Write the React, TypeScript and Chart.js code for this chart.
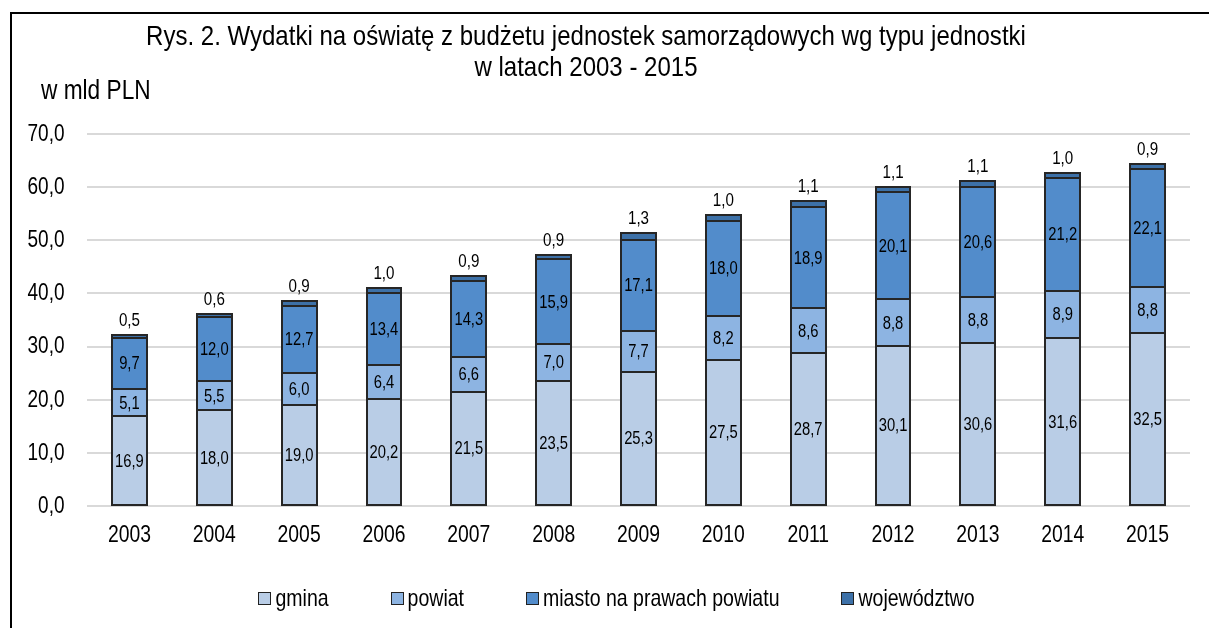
import React, { useEffect, useRef } from 'react';
import { Chart, registerables } from 'chart.js';

Chart.register(...registerables);

// ---- data ----
const years = ['2003', '2004', '2005', '2006', '2007', '2008', '2009', '2010', '2011', '2012', '2013', '2014', '2015'];
const gmina = [16.9, 18.0, 19.0, 20.2, 21.5, 23.5, 25.3, 27.5, 28.7, 30.1, 30.6, 31.6, 32.5];
const powiat = [5.1, 5.5, 6.0, 6.4, 6.6, 7.0, 7.7, 8.2, 8.6, 8.8, 8.8, 8.9, 8.8];
const miasto = [9.7, 12.0, 12.7, 13.4, 14.3, 15.9, 17.1, 18.0, 18.9, 20.1, 20.6, 21.2, 22.1];
const wojewodztwo = [0.5, 0.6, 0.9, 1.0, 0.9, 0.9, 1.3, 1.0, 1.1, 1.1, 1.1, 1.0, 0.9];
const seriesNames = ['gmina', 'powiat', 'miasto na prawach powiatu', 'województwo'];
const seriesColors = ['#B9CDE6', '#8DB4E2', '#528CCB', '#3D71A8'];
const yMin = 0;
const yMax = 70;
const yStep = 10;
const titleLines = [
  'Rys. 2. Wydatki na oświatę z budżetu jednostek samorządowych wg typu jednostki',
  'w latach 2003 - 2015',
];
const unitLabel = 'w mld PLN';

const FONT = "'Liberation Sans', Arial, sans-serif";
const NARROW = 0.82;
const fmt = (v: number) => v.toFixed(1).replace('.', ',');

// draws horizontally condensed text (Arial Narrow look)
function drawText(
  ctx: CanvasRenderingContext2D,
  text: string,
  x: number,
  y: number,
  size: number,
  align: CanvasTextAlign,
  baseline: CanvasTextBaseline,
  sx: number = NARROW
) {
  ctx.save();
  ctx.font = `${size}px ${FONT}`;
  ctx.textAlign = align;
  ctx.textBaseline = baseline;
  ctx.fillStyle = '#000';
  ctx.translate(x, y);
  ctx.scale(sx, 1);
  ctx.fillText(text, 0, 0);
  ctx.restore();
}

function textWidth(ctx: CanvasRenderingContext2D, text: string, size: number, sx: number = NARROW) {
  ctx.save();
  ctx.font = `${size}px ${FONT}`;
  const w = ctx.measureText(text).width * sx;
  ctx.restore();
  return w;
}

const axisLabelsPlugin = {
  id: 'axisLabels',
  afterDraw(chart: any) {
    const ctx = chart.ctx;
    const ys = chart.scales.y;
    ys.ticks.forEach((t: any) => {
      drawText(ctx, fmt(Number(t.value)), 64.5, ys.getPixelForValue(t.value) + 0.5, 23.2, 'right', 'middle');
    });
    const xs = chart.scales.x;
    chart.data.labels.forEach((l: string, i: number) => {
      drawText(ctx, l, xs.getPixelForValue(i), 535, 23.6, 'center', 'middle');
    });
  },
};

const barsPlugin = {
  id: 'barOutlinesAndLabels',
  afterDatasetsDraw(chart: any) {
    const ctx = chart.ctx;
    const n = chart.data.datasets.length;
    // outlines
    ctx.save();
    ctx.strokeStyle = '#262626';
    ctx.lineWidth = 2;
    for (let i = 0; i < n; i++) {
      const meta = chart.getDatasetMeta(i);
      meta.data.forEach((el: any) => {
        const l = Math.round(el.x - el.width / 2);
        const r = Math.round(el.x + el.width / 2);
        const t = Math.round(el.y);
        const b = Math.round(el.base);
        ctx.strokeRect(l, t, r - l, b - t);
      });
    }
    ctx.restore();
    // value labels
    chart.data.datasets.forEach((ds: any, i: number) => {
      const meta = chart.getDatasetMeta(i);
      meta.data.forEach((el: any, j: number) => {
        const v = ds.data[j];
        if (i < n - 1) {
          drawText(ctx, fmt(v), el.x, (el.y + el.base) / 2 + 1, 18, 'center', 'middle');
        } else {
          drawText(ctx, fmt(v), el.x, el.y - 9, 18.5, 'center', 'alphabetic');
        }
      });
    });
  },
};

const decorPlugin = {
  id: 'decor',
  afterDraw(chart: any) {
    const ctx = chart.ctx;
    // title
    drawText(ctx, titleLines[0], 586, 45, 28.5, 'center', 'alphabetic', 0.843);
    drawText(ctx, titleLines[1], 586, 76, 28.5, 'center', 'alphabetic', 0.843);
    // unit label
    drawText(ctx, unitLabel, 41, 99, 27, 'left', 'alphabetic', 0.84);
    // legend
    const size = 23.8;
    const box = 13;
    const gap = 4;
    const itemGap = 62;
    const widths = seriesNames.map((nm) => textWidth(ctx, nm, size));
    const total = widths.reduce((a, w) => a + box + gap + w, 0) + itemGap * (seriesNames.length - 1);
    let x = 616.5 - total / 2;
    const cy = 598.5;
    seriesNames.forEach((nm, i) => {
      const bx = Math.round(x);
      const by = Math.round(cy - box / 2);
      ctx.save();
      ctx.fillStyle = seriesColors[i];
      ctx.fillRect(bx, by, box, box);
      ctx.strokeStyle = '#222';
      ctx.lineWidth = 1;
      ctx.strokeRect(bx + 0.5, by + 0.5, box - 1, box - 1);
      ctx.restore();
      drawText(ctx, nm, x + box + gap, cy + 1, size, 'left', 'middle');
      x += box + gap + widths[i] + itemGap;
    });
  },
};

export default function App() {
  const ref = useRef<HTMLCanvasElement | null>(null);
  useEffect(() => {
    if (!ref.current) return;
    Chart.defaults.font.family = FONT;
    const series = [gmina, powiat, miasto, wojewodztwo];
    const chart = new Chart(ref.current, {
      type: 'bar',
      data: {
        labels: years,
        datasets: series.map((d, i) => ({
          label: seriesNames[i],
          data: d,
          backgroundColor: seriesColors[i],
          borderWidth: 0,
          inflateAmount: 0,
          barPercentage: 0.41,
          categoryPercentage: 1,
        })),
      },
      options: {
        animation: false,
        responsive: false,
        maintainAspectRatio: false,
        devicePixelRatio: 1,
        layout: { padding: { left: 0, right: 19, top: 134, bottom: 80 } },
        plugins: {
          legend: { display: false },
          title: { display: false },
          tooltip: { enabled: false },
        },
        scales: {
          x: {
            stacked: true,
            grid: { display: false, drawTicks: false },
            border: { display: false },
            ticks: { display: false },
            afterFit: (s: any) => {
              s.height = 42;
            },
          },
          y: {
            stacked: true,
            min: yMin,
            max: yMax,
            afterFit: (s: any) => {
              s.width = 87;
            },
            grid: { color: '#D9D9D9', lineWidth: 2, drawTicks: false },
            border: { display: false },
            ticks: { stepSize: yStep, display: false },
          },
        },
      },
      plugins: [barsPlugin, axisLabelsPlugin, decorPlugin],
    } as any);
    return () => chart.destroy();
  }, []);

  return (
    <div style={{ position: 'absolute', left: 0, top: 0, width: 1209, height: 628, overflow: 'hidden', background: '#fff' }}>
      <div
        style={{
          position: 'absolute',
          left: 10,
          top: 12,
          width: 1400,
          height: 800,
          borderLeft: '2px solid #000',
          borderTop: '2px solid #000',
        }}
      />
      <canvas ref={ref} width={1209} height={628} style={{ position: 'absolute', left: 0, top: 0, display: 'block' }} />
    </div>
  );
}
